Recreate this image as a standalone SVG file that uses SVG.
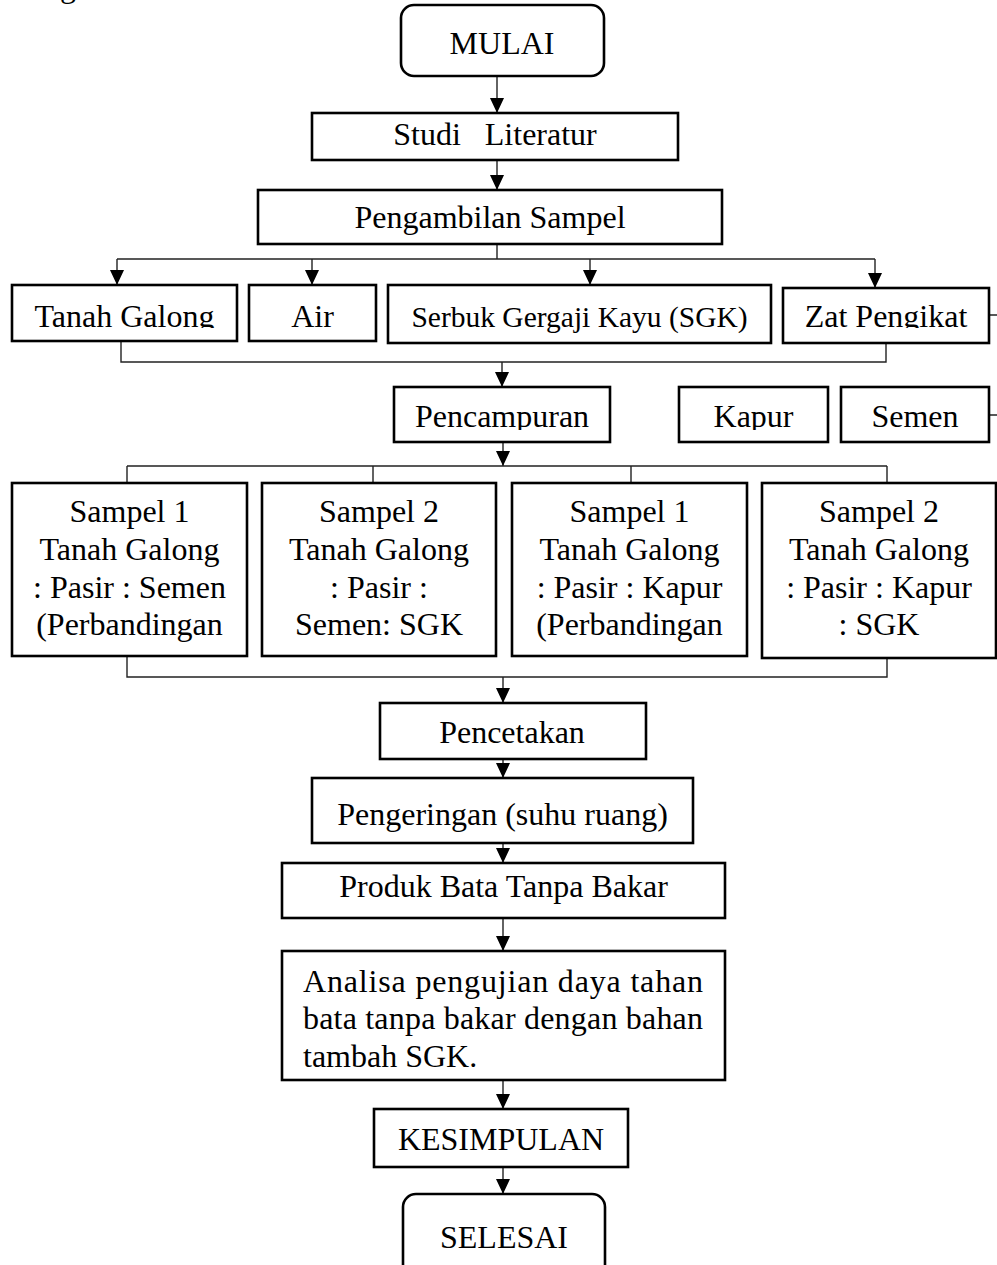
<svg xmlns="http://www.w3.org/2000/svg" width="997" height="1265" viewBox="0 0 997 1265">
<style>
.box{fill:#fff;stroke:#000;stroke-width:2.6}
.t{font-family:"Liberation Serif","Times New Roman",serif;font-size:32px;fill:#000;text-anchor:middle}
.s{font-size:29.5px}
.l{text-anchor:start}
.c{fill:none;stroke:#222;stroke-width:1.4}
</style>
<defs>
<marker id="ah" markerUnits="userSpaceOnUse" markerWidth="15" markerHeight="14" refX="15" refY="7" orient="auto">
<path d="M0,0 L15,7 L0,14 z" fill="#000"/>
</marker>
<clipPath id="cl1"><rect x="0" y="280" width="997" height="48"/></clipPath>
<clipPath id="cl2"><rect x="0" y="380" width="997" height="50"/></clipPath>
</defs>
<text class="t" x="68" y="-3" font-size="28">g</text>
<g id="connectors">
<path class="c" d="M497,76 V113" marker-end="url(#ah)"/>
<path class="c" d="M497,160 V190" marker-end="url(#ah)"/>
<path class="c" d="M497,244 V259 M117,259 H875"/>
<path class="c" d="M117,259 V285" marker-end="url(#ah)"/>
<path class="c" d="M312,259 V285" marker-end="url(#ah)"/>
<path class="c" d="M590,259 V285" marker-end="url(#ah)"/>
<path class="c" d="M875,259 V288" marker-end="url(#ah)"/>
<path class="c" d="M121,341 V362 H886 V343"/>
<path class="c" d="M502,362 V387" marker-end="url(#ah)"/>
<path class="c" d="M503,442 V466" marker-end="url(#ah)"/>
<path class="c" d="M127,466 H887 M127,466 V483 M373,466 V483 M631,466 V483 M887,466 V483"/>
<path class="c" d="M127,656 V677 H887 V658"/>
<path class="c" d="M503,677 V703" marker-end="url(#ah)"/>
<path class="c" d="M503,759 V778" marker-end="url(#ah)"/>
<path class="c" d="M503,843 V863" marker-end="url(#ah)"/>
<path class="c" d="M503,918 V951" marker-end="url(#ah)"/>
<path class="c" d="M503,1080 V1109" marker-end="url(#ah)"/>
<path class="c" d="M503,1167 V1194" marker-end="url(#ah)"/>
<path class="c" d="M989,315 H997 M989,415 H997"/>
</g>
<g id="mulai"><rect class="box" x="401" y="5" width="203" height="71" rx="13"/><text class="t" x="502" y="54">MULAI</text></g>
<g id="studi"><rect class="box" x="312" y="113" width="366" height="47"/><text class="t" x="495" y="145" xml:space="preserve">Studi   Literatur</text></g>
<g id="pengambilan"><rect class="box" x="258" y="190" width="464" height="54"/><text class="t" x="490" y="228">Pengambilan Sampel</text></g>
<g id="tanah"><rect class="box" x="12" y="285" width="225" height="56"/><text class="t" x="124.5" y="327" clip-path="url(#cl1)">Tanah Galong</text></g>
<g id="air"><rect class="box" x="249" y="285" width="127" height="56"/><text class="t" x="312.5" y="327">Air</text></g>
<g id="serbuk"><rect class="box" x="388" y="285" width="383" height="58"/><text class="t s" x="579.5" y="327">Serbuk Gergaji Kayu (SGK)</text></g>
<g id="zat"><rect class="box" x="783" y="288" width="206" height="55"/><text class="t" x="886" y="327" clip-path="url(#cl1)">Zat Pengikat</text></g>
<g id="pencampuran"><rect class="box" x="394" y="387" width="216" height="55"/><text class="t" x="502" y="427" clip-path="url(#cl2)">Pencampuran</text></g>
<g id="kapur"><rect class="box" x="679" y="387" width="149" height="55"/><text class="t" x="753.5" y="427" clip-path="url(#cl2)">Kapur</text></g>
<g id="semen"><rect class="box" x="841" y="387" width="148" height="55"/><text class="t" x="915" y="427">Semen</text></g>
<g id="sampel1a"><rect class="box" x="12" y="483" width="235" height="173"/>
<text class="t" x="129.5" y="522">Sampel 1</text><text class="t" x="129.5" y="560">Tanah Galong</text><text class="t" x="129.5" y="598">: Pasir : Semen</text><text class="t" x="129.5" y="635">(Perbandingan</text></g>
<g id="sampel2a"><rect class="box" x="262" y="483" width="234" height="173"/>
<text class="t" x="379" y="522">Sampel 2</text><text class="t" x="379" y="560">Tanah Galong</text><text class="t" x="379" y="598">: Pasir :</text><text class="t" x="379" y="635">Semen: SGK</text></g>
<g id="sampel1b"><rect class="box" x="512" y="483" width="235" height="173"/>
<text class="t" x="629.5" y="522">Sampel 1</text><text class="t" x="629.5" y="560">Tanah Galong</text><text class="t" x="629.5" y="598">: Pasir : Kapur</text><text class="t" x="629.5" y="635">(Perbandingan</text></g>
<g id="sampel2b"><rect class="box" x="762" y="483" width="234" height="175"/>
<text class="t" x="879" y="522">Sampel 2</text><text class="t" x="879" y="560">Tanah Galong</text><text class="t" x="879" y="598">: Pasir : Kapur</text><text class="t" x="879" y="635">: SGK</text></g>
<g id="pencetakan"><rect class="box" x="380" y="703" width="266" height="56"/><text class="t" x="512" y="743">Pencetakan</text></g>
<g id="pengeringan"><rect class="box" x="312" y="778" width="381" height="65"/><text class="t" x="502.5" y="825">Pengeringan (suhu ruang)</text></g>
<g id="produk"><rect class="box" x="282" y="863" width="443" height="55"/><text class="t" x="503.5" y="897">Produk Bata Tanpa Bakar</text></g>
<g id="analisa"><rect class="box" x="282" y="951" width="443" height="129"/>
<text class="t l" x="303" y="992" textLength="400" lengthAdjust="spacing">Analisa pengujian daya tahan</text>
<text class="t l" x="303" y="1029" textLength="400" lengthAdjust="spacing">bata tanpa bakar dengan bahan</text>
<text class="t l" x="303" y="1067">tambah SGK.</text></g>
<g id="kesimpulan"><rect class="box" x="374" y="1109" width="254" height="58"/><text class="t" x="501" y="1150">KESIMPULAN</text></g>
<g id="selesai"><rect class="box" x="403" y="1194" width="202" height="90" rx="13"/><text class="t" x="504" y="1248">SELESAI</text></g>
</svg>
